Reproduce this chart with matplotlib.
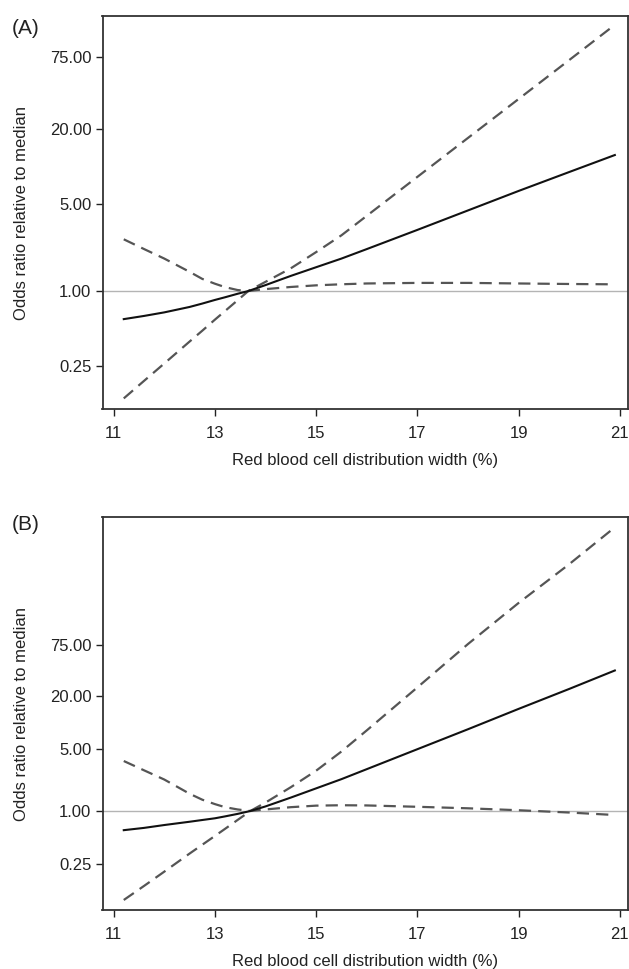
import matplotlib
matplotlib.use("Agg")
import matplotlib.pyplot as plt
from matplotlib.ticker import FixedLocator, FixedFormatter, NullLocator

# ---------------- data ----------------
x_a = [11.2, 11.6, 12.0, 12.5, 12.75, 13.0, 13.2, 13.45, 13.66, 14.0, 14.5, 15.0, 15.5, 16.0, 17.0, 18.0, 19.0, 20.0, 20.9]
or_a = [0.595, 0.631, 0.674, 0.745, 0.793, 0.848, 0.891, 0.951, 1.0, 1.116, 1.323, 1.553, 1.822, 2.171, 3.096, 4.437, 6.360, 9.025, 12.35]
upper_a = [0.1375, 0.190, 0.262, 0.393, 0.480, 0.589, 0.691, 0.844, 1.0, 1.185, 1.522, 2.054, 2.801, 4.015, 8.248, 16.95, 34.81, 71.5, 137.0]
lower_a = [2.601, 2.173, 1.822, 1.426, 1.252, 1.145, 1.075, 1.018, 1.0, 1.036, 1.078, 1.111, 1.133, 1.150, 1.162, 1.162, 1.150, 1.139, 1.132]

x_b = [11.2, 11.6, 12.0, 12.5, 12.75, 13.0, 13.2, 13.45, 13.7, 14.0, 14.5, 15.0, 15.5, 16.0, 17.0, 18.0, 19.0, 20.0, 20.9]
or_b = [0.607, 0.644, 0.694, 0.756, 0.791, 0.827, 0.869, 0.928, 1.0, 1.127, 1.419, 1.804, 2.293, 2.974, 5.003, 8.415, 14.30, 24.05, 38.86]
upper_b = [0.0985, 0.142, 0.206, 0.330, 0.415, 0.522, 0.628, 0.793, 1.0, 1.246, 1.859, 2.858, 4.711, 8.166, 25.03, 77.48, 225.9, 620.1, 1618.0]
lower_b = [3.677, 2.886, 2.270, 1.568, 1.343, 1.197, 1.105, 1.041, 1.0, 1.041, 1.105, 1.150, 1.162, 1.156, 1.116, 1.073, 1.020, 0.961, 0.901]

y_ticks = [0.25, 1.00, 5.00, 20.00, 75.00]
y_tick_labels = ["0.25", "1.00", "5.00", "20.00", "75.00"]
x_ticks = [11, 13, 15, 17, 19, 21]
x_tick_labels = ["11", "13", "15", "17", "19", "21"]

panel_labels = ["(A)", "(B)"]
x_label = "Red blood cell distribution width (%)"
y_label = "Odds ratio relative to median"

# ---------------- figure ----------------
plt.rcParams['font.family'] = ['Liberation Sans', 'DejaVu Sans']
fig = plt.figure(figsize=(6.29, 9.69), dpi=100)

W, H = 629.0, 969.0
def rect(l, t, r, b):
    return [l / W, 1 - b / H, (r - l) / W, (b - t) / H]

ax_a = fig.add_axes(rect(102.5, 16, 628, 409))
ax_b = fig.add_axes(rect(102.5, 517.3, 628, 910))

panels = [
    (ax_a, x_a, or_a, upper_a, lower_a, (0.113, 161.3), 28),
    (ax_b, x_b, or_b, upper_b, lower_b, (0.0759, 2100.0), 524),
]

dash_col = "#555555"
for i, (ax, xs, mid, up, lo, ylim, lab_y) in enumerate(panels):
    ax.set_yscale("log")
    ax.set_xlim(10.78, 21.16)
    ax.set_ylim(*ylim)
    ax.axhline(1.0, color="#b4b4b4", lw=1.0, zorder=1)
    ax.plot(xs, up, color=dash_col, lw=1.6, dashes=(5.5, 3.2), zorder=2)
    ax.plot(xs, lo, color=dash_col, lw=1.6, dashes=(5.5, 3.2), zorder=2)
    ax.plot(xs, mid, color="#111111", lw=1.5, zorder=3)

    ax.yaxis.set_major_locator(FixedLocator(y_ticks))
    ax.yaxis.set_major_formatter(FixedFormatter(y_tick_labels))
    ax.yaxis.set_minor_locator(NullLocator())
    ax.xaxis.set_major_locator(FixedLocator(x_ticks))
    ax.xaxis.set_major_formatter(FixedFormatter(x_tick_labels))
    ax.tick_params(axis="both", which="major", direction="out", length=5,
                   width=1.0, labelsize=12, colors="#222222", pad=3)
    ax.tick_params(axis="x", pad=7)
    for s in ax.spines.values():
        s.set_linewidth(1.3)
        s.set_color("#333333")
    ax.set_xlabel(x_label, fontsize=12, color="#222222", labelpad=9)
    ax.set_ylabel(y_label, fontsize=12, color="#222222", labelpad=15)
    fig.text(26 / W, 1 - lab_y / H, panel_labels[i], fontsize=15,
             ha="center", va="center", color="#222222")

fig.savefig("out.png", dpi=100)
